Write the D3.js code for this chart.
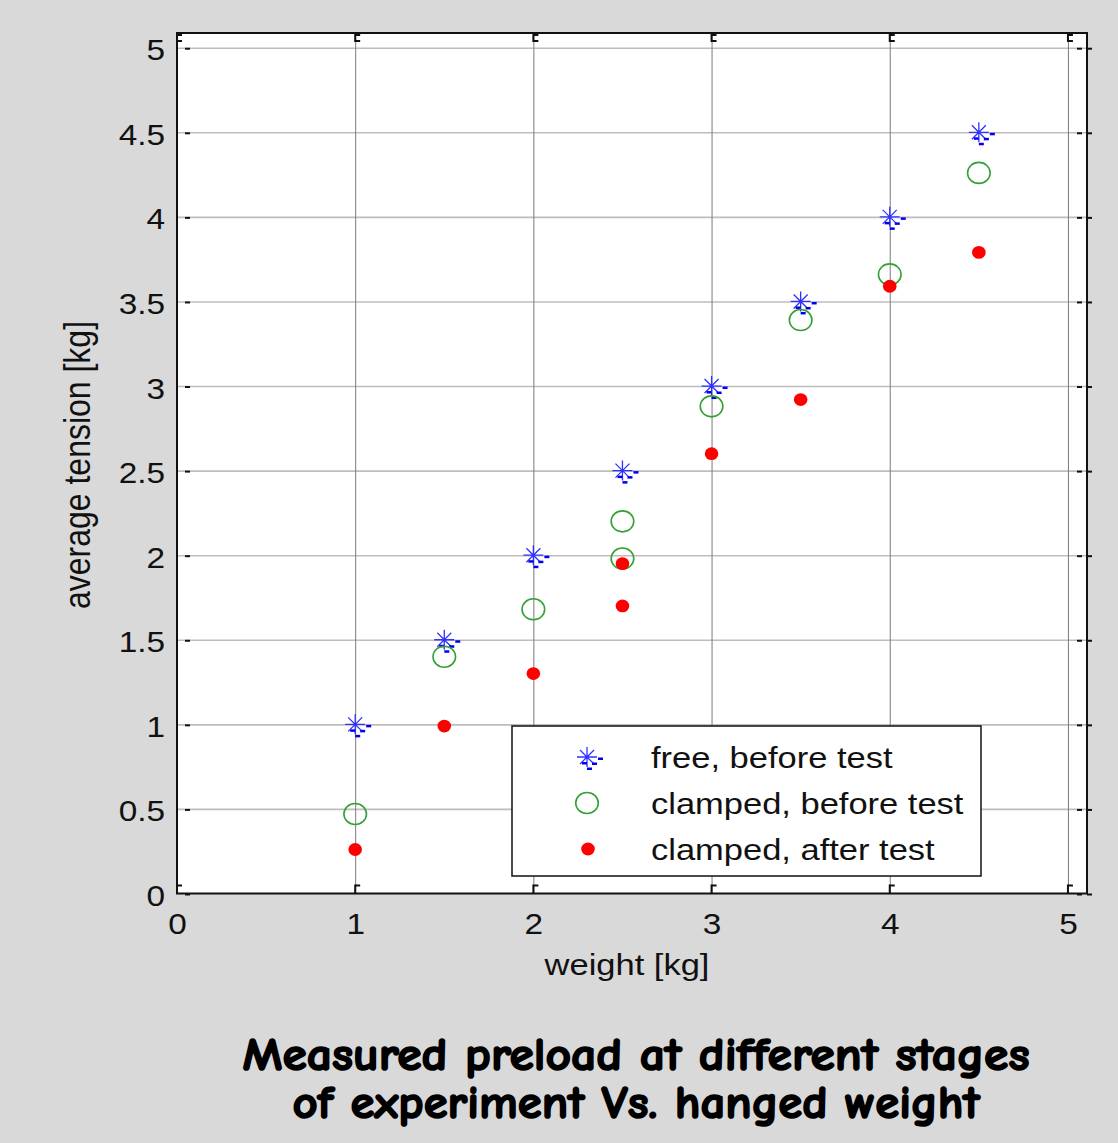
<!DOCTYPE html>
<html>
<head>
<meta charset="utf-8">
<script src="https://cdn.jsdelivr.net/npm/d3@7"></script>
<style>
  body { margin: 0; background: #d9d9d9; }
  svg { display: block; }
</style>
</head>
<body>
<svg id="drawing_region"></svg>
<script>
// values
const free_x = [1, 1.5, 2, 2.5, 3, 3.5, 4, 4.5];
const free_before = [1, 1.5, 2, 2.5, 3, 3.5, 4, 4.5];
const clamped_before_x = [1, 1.5, 2, 2.5, 2.5, 3, 3.5, 4, 4.5];
const clamped_before = [0.47, 1.40, 1.68, 2.20, 1.98, 2.88, 3.39, 3.66, 4.26];
const clamped_after_x = [1, 1.5, 2, 2.5, 2.5, 3, 3.5, 4, 4.5];
const clamped_after = [0.26, 0.99, 1.30, 1.95, 1.70, 2.60, 2.92, 3.59, 3.79];
const x_ticks = [0, 1, 2, 3, 4, 5];
const y_ticks = [0, 0.5, 1, 1.5, 2, 2.5, 3, 3.5, 4, 4.5, 5];
const series_names = ['free, before test', 'clamped, before test', 'clamped, after test'];
const x_label = 'weight [kg]';
const y_label = 'average tension [kg]';
const title_lines = ['Measured preload at different stages', 'of experiment Vs. hanged weight'];

const FONT = '"Liberation Sans", Arial, sans-serif';
const SX = 1.15; // the original picture is stretched sideways

class PreloadPlot {

    constructor( config ) {
        this.config = {
            parent: config.parent,
            width: config.width || 1118,
            height: config.height || 1143,
            margin: config.margin || {top:33, right:31, bottom:249.5, left:177}
        };
        this.init();
    }

    init() {
        let self = this;

        self.svg = d3.select( self.config.parent )
            .attr('width', self.config.width)
            .attr('height', self.config.height);

        self.inner_width = self.config.width - self.config.margin.left - self.config.margin.right;
        self.inner_height = self.config.height - self.config.margin.top - self.config.margin.bottom;

        self.chart = self.svg.append('g')
            .attr('transform', `translate(${self.config.margin.left}, ${self.config.margin.top})`);

        self.xscale = d3.scaleLinear()
            .domain([0, 5.107])
            .range([0, self.inner_width]);

        self.yscale = d3.scaleLinear()
            .domain([0, 5.087])
            .range([self.inner_height, 0]);
    }

    render() {
        let self = this;
        const W = self.inner_width, H = self.inner_height;
        const fmt = d => String(d);

        self.chart.append('rect')
            .attr('width', W).attr('height', H)
            .attr('fill', 'white');

        // horizontal grid
        self.chart.append('g')
            .call( d3.axisLeft(self.yscale).tickValues(y_ticks.slice(1)).tickSize(-W).tickFormat('') )
            .call( g => g.select('.domain').remove() )
            .selectAll('line')
            .attr('stroke', '#bdbdbd').attr('stroke-width', 1.6);

        // vertical grid
        self.chart.append('g')
            .call( d3.axisBottom(self.xscale).tickValues(x_ticks.slice(1)).tickSize(H).tickFormat('') )
            .call( g => g.select('.domain').remove() )
            .selectAll('line')
            .attr('stroke', '#7a7a7a').attr('stroke-width', 1);

        // frame
        self.chart.append('rect')
            .attr('width', W).attr('height', H)
            .attr('fill', 'none').attr('stroke', '#111').attr('stroke-width', 2);

        // little tick marks
        const tk = self.chart.append('g').attr('stroke', '#111').attr('stroke-width', 2);
        x_ticks.forEach( v => {
            const x = self.xscale(v);
            tk.append('line').attr('x1', x).attr('x2', x).attr('y1', 0).attr('y2', 9);
            tk.append('line').attr('x1', x).attr('x2', x + 5).attr('y1', 2).attr('y2', 2);
            tk.append('line').attr('x1', x).attr('x2', x + 5).attr('y1', 8).attr('y2', 8);
            tk.append('line').attr('x1', x).attr('x2', x).attr('y1', H).attr('y2', H - 9);
            tk.append('line').attr('x1', x).attr('x2', x + 5).attr('y1', H - 8).attr('y2', H - 8);
        });
        y_ticks.forEach( v => {
            const y = self.yscale(v);
            tk.append('line').attr('x1', 8).attr('x2', 13).attr('y1', y + 1).attr('y2', y + 1);
            tk.append('line').attr('x1', W - 10).attr('x2', W - 5).attr('y1', y + 1).attr('y2', y + 1);
            tk.append('line').attr('x1', W).attr('x2', W + 5).attr('y1', y + 1).attr('y2', y + 1);
        });

        // tick labels
        const yaxis_group = self.chart.append('g')
            .call( d3.axisLeft(self.yscale).tickValues(y_ticks).tickFormat(fmt).tickSize(0).tickPadding(12) );
        const xaxis_group = self.chart.append('g')
            .attr('transform', `translate(0, ${H})`)
            .call( d3.axisBottom(self.xscale).tickValues(x_ticks).tickFormat(fmt).tickSize(0).tickPadding(19.5) );
        [xaxis_group, yaxis_group].forEach( g => {
            g.select('.domain').remove();
            g.selectAll('text')
                .attr('font-size', 29).attr('font-family', FONT).attr('fill', '#111');
        });
        yaxis_group.selectAll('text')
            .attr('x', -12 / SX).attr('dy', 12)
            .attr('transform', `scale(${SX},1)`);
        xaxis_group.selectAll('text')
            .attr('transform', `scale(${SX},1)`);

        // data marks
        const marks = self.chart.append('g');
        free_x.forEach( (x, i) => {
            self.asterisk( marks, self.xscale(x), self.yscale(free_before[i]) );
        });
        clamped_before_x.forEach( (x, i) => {
            self.ring( marks, self.xscale(x), self.yscale(clamped_before[i]) );
        });
        clamped_after_x.forEach( (x, i) => {
            self.dot( marks, self.xscale(x), self.yscale(clamped_after[i]) );
        });

        // legend
        const lg = self.svg.append('g').attr('transform', 'translate(512, 726)');
        lg.append('rect')
            .attr('width', 469).attr('height', 150)
            .attr('fill', 'white').attr('stroke', '#111').attr('stroke-width', 1.5);
        const rows = [31, 77, 123];
        self.asterisk( lg, 75, rows[0] );
        self.ring( lg, 75, rows[1] );
        self.dot( lg, 76, rows[2] );
        series_names.forEach( (s, i) => {
            lg.append('text')
                .attr('transform', `translate(139, ${rows[i] + 11}) scale(${SX},1)`)
                .attr('font-size', 30).attr('font-family', FONT).attr('fill', '#111')
                .text(s);
        });

        // axis labels
        self.svg.append('text')
            .attr('transform', `translate(627, 975) scale(${SX},1)`)
            .attr('text-anchor', 'middle')
            .attr('font-size', 30).attr('font-family', FONT).attr('fill', '#111')
            .text(x_label);
        self.svg.append('text')
            .attr('transform', `translate(90, 465) rotate(-90) scale(1,${SX})`)
            .attr('text-anchor', 'middle')
            .attr('font-size', 32).attr('font-family', FONT).attr('fill', '#111')
            .text(y_label);

        // caption
        [1070, 1118].forEach( (y, i) => {
            self.svg.append('text')
                .attr('x', 636).attr('y', y)
                .attr('text-anchor', 'middle')
                .attr('font-size', 46).attr('font-weight', 'bold')
                .attr('font-family', '"Comic Sans MS", "Comic Neue", "Liberation Sans", sans-serif')
                .attr('textLength', i === 0 ? 787 : 687)
                .attr('lengthAdjust', 'spacingAndGlyphs')
                .attr('fill', '#000').attr('stroke', '#000').attr('stroke-width', 1.6)
                .attr('stroke-linejoin', 'round')
                .text(title_lines[i]);
        });
    }

    asterisk( parent, x, y ) {
        const g = parent.append('g').attr('transform', `translate(${x}, ${y})`);
        g.append('path')
            .attr('d', 'M-10,0H10M0,-10V10M-7,-7L7,7M-7,7L7,-7')
            .attr('stroke', '#3030ff').attr('stroke-width', 1.3).attr('fill', 'none');
        [[11, 0.5], [-5, 5], [5, 5.5], [0, 10.5]].forEach( d => {
            g.append('rect')
                .attr('x', d[0]).attr('y', d[1]).attr('width', 5).attr('height', 2.5)
                .attr('fill', '#0000ee');
        });
    }

    ring( parent, x, y ) {
        parent.append('ellipse')
            .attr('cx', x).attr('cy', y).attr('rx', 11.3).attr('ry', 10.5)
            .attr('fill', 'none').attr('stroke', '#35a035').attr('stroke-width', 1.6);
    }

    dot( parent, x, y ) {
        parent.append('ellipse')
            .attr('cx', x).attr('cy', y).attr('rx', 6.8).attr('ry', 6.4)
            .attr('fill', '#ff0000');
    }
}

const plot = new PreloadPlot({ parent: '#drawing_region' });
plot.render();
</script>
</body>
</html>
